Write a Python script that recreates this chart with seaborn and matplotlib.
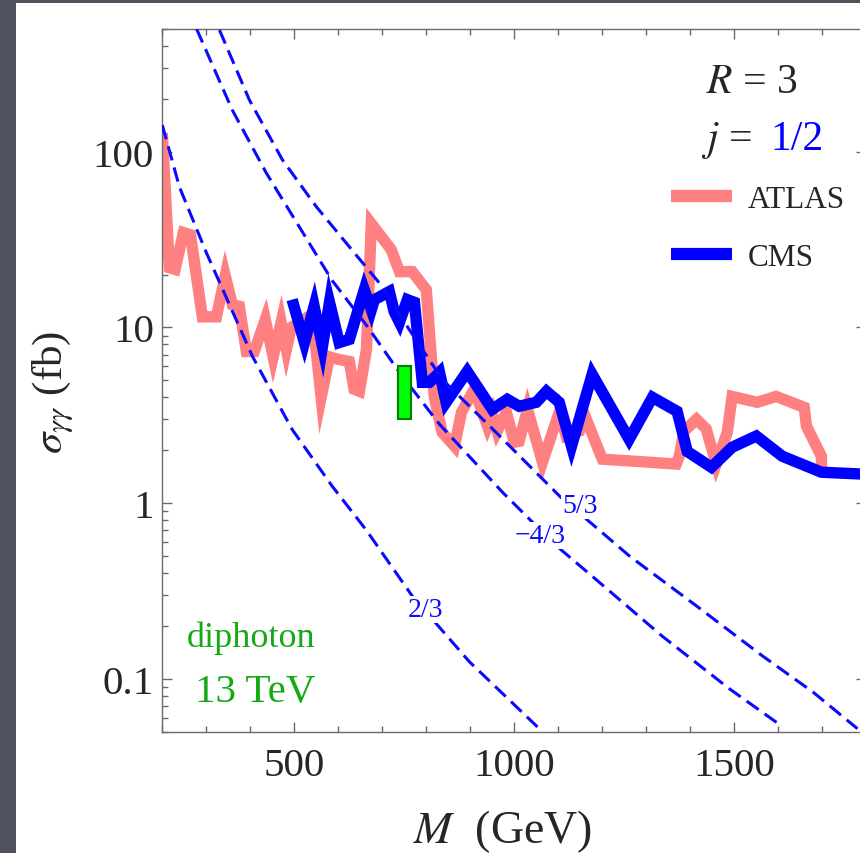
import numpy as np
import pandas as pd
import matplotlib
matplotlib.use("Agg")
import matplotlib.pyplot as plt
import seaborn as sns
from matplotlib.ticker import FixedLocator, MultipleLocator, LogLocator, NullFormatter

# ---------------- data ----------------
atlas_mass = [200, 216, 229, 248, 264, 291, 323, 343, 359, 375, 391, 409, 434, 452,
              470, 482, 493, 541, 561, 580, 598, 625, 636, 648, 664, 675, 720, 739,
              768, 800, 818, 836, 864, 880, 909, 939, 950, 961, 982, 1000, 1011, 1030,
              1064, 1102, 1118, 1148, 1159, 1200, 1368, 1375, 1386, 1414, 1436, 1459,
              1484, 1495, 1552, 1595, 1659, 1664, 1698, 1698]
atlas_sigma = [128, 21.9, 21.4, 34.7, 33.7, 11.5, 11.5, 19.7, 13.5, 13.2, 7.3, 7.3, 11.1, 6.8,
               10.7, 7.5, 10.0, 11.9, 4.0, 6.8, 6.6, 6.4, 4.45, 4.33, 7.5, 39, 27.8, 20.8,
               20.8, 16.4, 4.05, 2.53, 2.11, 3.29, 4.45, 2.74, 3.21, 2.57, 3.29, 2.22, 2.25, 3.42,
               1.71, 3.29, 2.41, 2.57, 3.21, 1.78, 1.67, 1.85, 2.57, 3.0, 2.65, 1.67,
               2.53, 4.05, 3.75, 4.05, 3.51, 2.74, 1.85, 1.5]

cms_mass = [495, 523, 545, 564, 580, 602, 625, 659, 675, 682, 716, 727, 739, 757, 773,
            791, 807, 830, 845, 893, 950, 984, 1011, 1050, 1073, 1102, 1130, 1177, 1261,
            1314, 1370, 1393, 1448, 1495, 1550, 1609, 1698, 1800]
cms_sigma = [14.4, 8.2, 13.2, 7.8, 13.9, 8.2, 8.55, 16.4, 12.6, 14.4, 16.0, 12.3, 10.7, 14.4, 13.9,
             4.87, 4.87, 5.55, 3.75, 5.62, 3.42, 3.9, 3.56, 3.75, 4.33, 3.75, 2.11, 5.41, 2.31,
             4.0, 3.33, 1.97, 1.60, 2.08, 2.41, 1.85, 1.5, 1.46]

# theory curves for charges 2/3, -4/3, 5/3
q23_mass = [200, 239, 300, 405, 495, 586, 664, 768, 898, 1064]
q23_sigma = [142, 63, 26.7, 6.84, 2.63, 1.25, 0.70, 0.296, 0.125, 0.050]

q43_mass = [278, 359, 436, 511, 586, 664, 739, 830, 973, 1091, 1186, 1336, 1489, 1607]
q43_sigma = [500, 173, 76, 37.5, 18.5, 10.3, 5.55, 2.81, 1.155, 0.585, 0.367, 0.175, 0.0877, 0.054]

q53_mass = [330, 398, 473, 550, 625, 700, 761, 836, 959, 1104, 1263, 1414, 1564, 1679, 1780]
q53_sigma = [493, 197, 90, 48.7, 28.8, 17.1, 9.75, 5.07, 2.52, 1.09, 0.497, 0.26, 0.135, 0.084, 0.052]

curve_labels = ["2/3", "\u22124/3", "5/3"]
curve_label_mass = [799, 1058, 1149]
curve_label_sigma = [0.248, 0.653, 0.968]

# 750 GeV excess box
excess_center = [750]
excess_width = [30]
excess_low = [3.0]
excess_high = [6.0]

xtick_values = [500, 1000, 1500]
ytick_values = [0.1, 1, 10, 100]
ytick_labels = ["0.1", "1", "10", "100"]

# ---------------- style ----------------
sns.set_style("ticks")
plt.rcParams['font.family'] = ['Liberation Serif', 'DejaVu Serif']
plt.rcParams['mathtext.fontset'] = 'stix'

fig = plt.figure(figsize=(8.6, 8.54), dpi=100, facecolor='#4d525d')
panel = plt.Rectangle((16 / 860, 0), 1 - 16 / 860, (854 - 4) / 854, transform=fig.transFigure,
                      facecolor='white', edgecolor='none', zorder=-5)
fig.patches.append(panel)

ax = fig.add_axes([162.3 / 860, (854 - 732.7) / 854, 704 / 860, 702.7 / 854])
ax.set_facecolor('none')

atlas = pd.DataFrame({'M': atlas_mass, 'sigma': atlas_sigma})
cms = pd.DataFrame({'M': cms_mass, 'sigma': cms_sigma})

line_kw = dict(sort=False, estimator=None, lw=8.2, solid_joinstyle='miter', solid_capstyle='butt')
sns.lineplot(data=atlas, x='M', y='sigma', color='#ff8080', label='ATLAS', ax=ax, zorder=2, **line_kw)
sns.lineplot(data=cms, x='M', y='sigma', color='#0000ff', label='CMS', ax=ax, zorder=2.1, **line_kw)

dash_blue = '#0a0aff'
for m, s in [(q23_mass, q23_sigma), (q43_mass, q43_sigma), (q53_mass, q53_sigma)]:
    d = pd.DataFrame({'M': m, 'sigma': s})
    sns.lineplot(data=d, x='M', y='sigma', sort=False, estimator=None, color=dash_blue,
                 lw=2.2, linestyle=(0, (4.8, 2.4)), legend=False, ax=ax, zorder=3)

for lab, xm, ys in zip(curve_labels, curve_label_mass, curve_label_sigma):
    ax.text(xm, ys, lab, color=dash_blue, fontsize=20, ha='center', va='center', zorder=3.5,
            bbox=dict(facecolor='white', edgecolor='none', pad=0.5))

ax.bar(excess_center, np.array(excess_high) - np.array(excess_low), bottom=excess_low,
       width=excess_width, color='#00ff00', edgecolor='#008000', linewidth=1.5, zorder=4)

ax.set_yscale('log')
ax.set_xlim(200, 1800)
ax.set_ylim(0.05, 500)

ax.xaxis.set_major_locator(FixedLocator(xtick_values))
ax.xaxis.set_minor_locator(MultipleLocator(100))
ax.yaxis.set_major_locator(FixedLocator(ytick_values))
ax.set_yticklabels(ytick_labels)
ax.yaxis.set_minor_locator(LogLocator(base=10, subs=np.arange(2, 10)))
ax.yaxis.set_minor_formatter(NullFormatter())

ax.tick_params(which='both', direction='in', top=True, right=True, color='#6a6a6a', width=1.0)
ax.tick_params(which='major', length=7.5, labelsize=29.5)
ax.tick_params(which='minor', length=4)
ax.tick_params(axis='x', pad=11)
ax.tick_params(axis='y', pad=6)
for sp in ax.spines.values():
    sp.set_color('#6a6a6a')
    sp.set_linewidth(1.0)

ax.set_xlabel(r'$M$  (GeV)', fontsize=33)
ax.xaxis.set_label_coords(0.483, -0.108)
ax.set_ylabel(r'$\sigma_{\gamma\gamma}$ (fb)', fontsize=31)
ax.yaxis.set_label_coords(-0.122, 0.484)

ax.text(0.8377, 0.910, r'$R$ = 3', transform=ax.transAxes, ha='center', va='baseline', fontsize=30)
ax.text(0.8377, 0.829, r'$j$ =', transform=ax.transAxes, ha='right', va='baseline', fontsize=30)
ax.text(0.8632, 0.829, '1/2', color='#0000ff', transform=ax.transAxes, ha='left', va='baseline', fontsize=30)

ax.text(0.0351, 0.1219, 'diphoton', color='#14aa14', transform=ax.transAxes, va='baseline', fontsize=26)
ax.text(0.0464, 0.0437, '13 TeV', color='#14aa14', transform=ax.transAxes, va='baseline', fontsize=29.5)

leg = ax.legend(loc='upper left', bbox_to_anchor=(0.7226, 0.7785), frameon=False, fontsize=22.5,
                handlelength=1.95, handletextpad=0.5, labelspacing=0.93, borderpad=0, borderaxespad=0)
for l in leg.get_lines():
    l.set_linewidth(8.8)
    l.set_solid_capstyle('butt')

fig.savefig('out.png', dpi=100, facecolor=fig.get_facecolor())
